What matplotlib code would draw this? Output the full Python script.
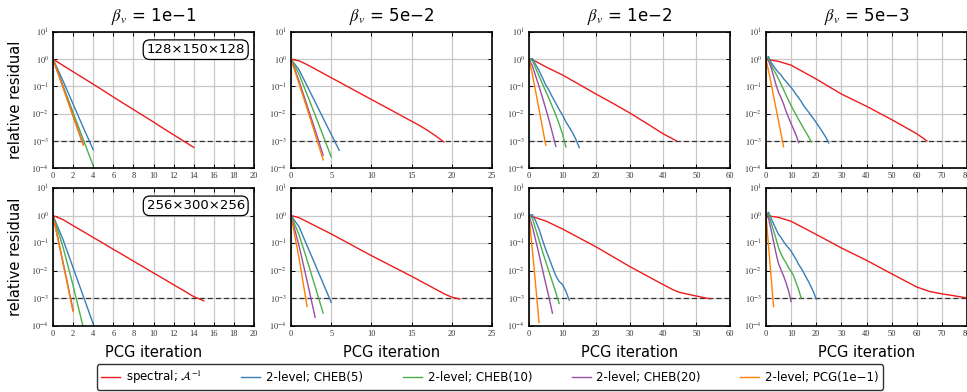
import numpy as np
import matplotlib
matplotlib.use("Agg")
import matplotlib.pyplot as plt
from matplotlib.lines import Line2D

# ---------------- data (log10 of relative residual) ----------------
titles = ["1e\u22121", "5e\u22122", "1e\u22122", "5e\u22123"]
xmax = [20, 25, 60, 80]
xstep = [2, 5, 10, 10]
methods = ["spectral", "cheb5", "cheb10", "cheb20", "pcg"]
labels = [r"spectral; $\mathcal{A}^{-1}$", "2-level; CHEB(5)", "2-level; CHEB(10)",
          "2-level; CHEB(20)", "2-level; PCG(1e\u22121)"]
colors = ["#ee1c1c", "#377eb8", "#4daf4a", "#984ea3", "#ff7f00"]
grid_labels = ["128\u00d7150\u00d7128", "256\u00d7300\u00d7256"]
tol = 1e-3

# top row (128x150x128); spectral series given as (iterations, log10 residual)
t1_spec_x = list(range(15))
t1_spec = [0, -0.23, -0.46, -0.69, -0.92, -1.15, -1.39, -1.62, -1.85, -2.08, -2.31, -2.55, -2.78, -3.01, -3.24]
t1_cheb5 = [0, -0.80, -1.65, -2.50, -3.33]
t1_cheb10 = [0, -0.98, -1.96, -2.94, -3.92]
t1_cheb20 = [0, -1.02, -2.08, -3.12]
t1_pcg = [0, -1.05, -2.10, -3.16]

t2_spec_x = list(range(20))
t2_spec = [0, -0.06, -0.20, -0.36, -0.52, -0.68, -0.84, -1.00, -1.16, -1.32, -1.48, -1.64, -1.80, -1.96, -2.12,
           -2.28, -2.44, -2.62, -2.82, -3.04]
t2_cheb5 = [0, -0.39, -0.98, -1.57, -2.17, -2.76, -3.35]
t2_cheb10 = [0, -0.55, -1.30, -2.05, -2.82, -3.59]
t2_cheb20 = [0, -0.80, -1.70, -2.60, -3.53]
t2_pcg = [0, -0.90, -1.82, -2.75, -3.70]

t3_spec_x = [0, 2, 5, 10, 15, 20, 25, 30, 35, 40, 44]
t3_spec = [0, -0.08, -0.28, -0.58, -0.93, -1.28, -1.62, -1.97, -2.35, -2.74, -3.00]
t3_cheb5 = [0, 0.02, -0.20, -0.42, -0.68, -0.95, -1.15, -1.40, -1.62, -1.85, -2.05, -2.30, -2.50, -2.70, -2.95, -3.25]
t3_cheb10 = [0, -0.05, -0.33, -0.62, -0.90, -1.18, -1.46, -1.75, -2.05, -2.38, -2.75, -3.22]
t3_cheb20 = [0, -0.25, -0.62, -1.00, -1.40, -1.82, -2.25, -2.72, -3.20]
t3_pcg = [0, -0.55, -1.20, -1.85, -2.50, -3.16]

t4_spec_x = [0, 5, 10, 20, 30, 40, 50, 60, 64]
t4_spec = [0, -0.08, -0.22, -0.73, -1.28, -1.73, -2.22, -2.74, -3.00]
t4_cheb5 = [0, 0.10, -0.12, -0.25, -0.38, -0.49, -0.58, -0.72, -0.82, -0.93, -1.04, -1.16, -1.30, -1.42, -1.55,
            -1.71, -1.83, -1.95, -2.08, -2.20, -2.33, -2.47, -2.60, -2.75, -2.90, -3.08]
t4_cheb10 = [0, 0.05, -0.20, -0.38, -0.55, -0.73, -0.92, -1.12, -1.32, -1.52, -1.71, -1.88, -2.05, -2.22, -2.38,
             -2.55, -2.70, -2.86, -3.04]
t4_cheb20 = [0, -0.05, -0.30, -0.62, -0.95, -1.22, -1.42, -1.65, -1.92, -2.15, -2.37, -2.58, -2.80, -3.07]
t4_pcg = [0, -0.42, -0.88, -1.35, -1.82, -2.28, -2.75, -3.22]

# bottom row (256x300x256)
b1_spec_x = list(range(16))
b1_spec = [0, -0.15, -0.37, -0.58, -0.80, -1.01, -1.23, -1.44, -1.66, -1.87, -2.09, -2.30, -2.52, -2.73, -2.95, -3.10]
b1_cheb5 = [0, -0.88, -1.90, -2.92, -3.94]
b1_cheb10 = [0, -1.15, -2.55, -4.05]
b1_cheb20 = [0, -1.70, -3.45]
b1_pcg = [0, -1.75, -3.49]

b2_spec_x = [0, 1, 5, 10, 15, 19, 20, 21]
b2_spec = [0, -0.08, -0.67, -1.46, -2.21, -2.84, -2.97, -3.04]
b2_cheb5 = [0, -0.41, -1.10, -1.78, -2.47, -3.16]
b2_cheb10 = [0, -0.70, -1.62, -2.58, -3.55]
b2_cheb20 = [0, -1.10, -2.38, -3.70]
b2_pcg = [0, -1.55, -3.31]

b3_spec_x = [0, 5, 10, 20, 30, 40, 43, 45, 50, 54]
b3_spec = [0, -0.20, -0.49, -1.14, -1.85, -2.51, -2.70, -2.80, -2.93, -3.03]
b3_cheb5 = [0, 0.03, -0.20, -0.50, -0.88, -1.24, -1.55, -1.88, -2.19, -2.40, -2.51, -2.75, -3.08]
b3_cheb10 = [0, -0.10, -0.50, -0.90, -1.30, -1.68, -2.05, -2.42, -2.80, -3.20]
b3_cheb20 = [0, -0.40, -0.90, -1.42, -1.95, -2.48, -3.00, -3.55]
b3_pcg = [0, -1.25, -2.55, -3.89]

b4_spec_x = [0, 5, 10, 20, 30, 40, 50, 60, 65, 70, 75, 80]
b4_spec = [0, -0.07, -0.21, -0.69, -1.18, -1.63, -2.12, -2.60, -2.76, -2.85, -2.92, -3.00]
b4_cheb5 = [0, 0.12, -0.10, -0.30, -0.50, -0.69, -0.80, -0.95, -1.08, -1.18, -1.30, -1.45, -1.60, -1.78, -1.92,
            -2.08, -2.25, -2.42, -2.60, -2.80, -3.04]
b4_cheb10 = [0, 0.05, -0.25, -0.55, -0.85, -1.18, -1.40, -1.58, -1.72, -1.90, -2.03, -2.20, -2.45, -2.70, -3.00]
b4_cheb20 = [0, -0.10, -0.50, -0.95, -1.38, -1.76, -1.98, -2.20, -2.45, -2.75, -3.13]
b4_pcg = [0, -1.10, -2.20, -3.31]

rows = [
    [(t1_spec_x, t1_spec, t1_cheb5, t1_cheb10, t1_cheb20, t1_pcg),
     (t2_spec_x, t2_spec, t2_cheb5, t2_cheb10, t2_cheb20, t2_pcg),
     (t3_spec_x, t3_spec, t3_cheb5, t3_cheb10, t3_cheb20, t3_pcg),
     (t4_spec_x, t4_spec, t4_cheb5, t4_cheb10, t4_cheb20, t4_pcg)],
    [(b1_spec_x, b1_spec, b1_cheb5, b1_cheb10, b1_cheb20, b1_pcg),
     (b2_spec_x, b2_spec, b2_cheb5, b2_cheb10, b2_cheb20, b2_pcg),
     (b3_spec_x, b3_spec, b3_cheb5, b3_cheb10, b3_cheb20, b3_pcg),
     (b4_spec_x, b4_spec, b4_cheb5, b4_cheb10, b4_cheb20, b4_pcg)],
]

# ---------------- figure ----------------
plt.rcParams["mathtext.fontset"] = "stix"
W, H = 967, 392
fig = plt.figure(figsize=(W / 100, H / 100), dpi=100)

lefts = [53, 291, 529, 766]
width = 201
row_boxes = [(32, 168), (188, 325.5)]

tick_font = dict(family="Liberation Serif", size=6)

for r, (ytop, ybot) in enumerate(row_boxes):
    for c in range(4):
        ax = fig.add_axes([lefts[c] / W, (H - ybot) / H, width / W, (ybot - ytop) / H])
        spec_x, spec, ch5, ch10, ch20, pcg = rows[r][c]
        series = [(spec_x, spec), (list(range(len(ch5))), ch5), (list(range(len(ch10))), ch10),
                  (list(range(len(ch20))), ch20), (list(range(len(pcg))), pcg)]
        ax.axhline(tol, color="#333333", ls=(0, (4, 2.5)), lw=0.9, zorder=2)
        for (xs, ys), col in zip(series, colors):
            ax.plot(xs, 10.0 ** np.asarray(ys), color=col, lw=1.0, zorder=3)
        ax.set_yscale("log")
        ax.set_ylim(1e-4, 1e1)
        ax.set_xlim(0, xmax[c])
        ax.set_xticks(np.arange(0, xmax[c] + 0.1, xstep[c]))
        ax.set_yticks([1e-4, 1e-3, 1e-2, 1e-1, 1e0, 1e1])
        ax.yaxis.set_minor_locator(matplotlib.ticker.NullLocator())
        ax.set_yticklabels([r"$10^{-4}$", r"$10^{-3}$", r"$10^{-2}$", r"$10^{-1}$", r"$10^{0}$", r"$10^{1}$"],
                           fontsize=6)
        ax.set_xticklabels([str(int(v)) for v in ax.get_xticks()], **tick_font)
        ax.grid(True, color="#c8c8c8", lw=0.9, zorder=0)
        ax.tick_params(direction="in", length=3, width=0.7, top=True, right=True, pad=3, colors="black",
                       labelcolor="#333333")
        for s in ax.spines.values():
            s.set_linewidth(1.2)
            s.set_zorder(5)
        if r == 0:
            ax.set_title(r"$\beta_v$ = " + titles[c], fontsize=12, pad=8)
        if r == 1:
            ax.set_xlabel("PCG iteration", fontsize=10.5, labelpad=5)
        if c == 0:
            ax.set_ylabel("relative residual", fontsize=10.5, labelpad=6)
            ax.text(0.71, 0.87, grid_labels[r], transform=ax.transAxes, ha="center", va="center",
                    fontsize=9.5, zorder=6,
                    bbox=dict(boxstyle="round,pad=0.25,rounding_size=0.5", fc="white", ec="black", lw=0.9))

handles = [Line2D([0], [0], color=col, lw=1.0) for col in colors]
leg = fig.legend(handles, labels, loc="center", bbox_to_anchor=(490 / W, (H - 377) / H), ncol=5,
                 fontsize=8.5, frameon=True, fancybox=True, handlelength=1.6, handletextpad=0.5,
                 columnspacing=3.35, borderpad=0.35)
leg.get_frame().set_edgecolor("black")
leg.get_frame().set_linewidth(1.0)

fig.savefig("out.png", dpi=100)
